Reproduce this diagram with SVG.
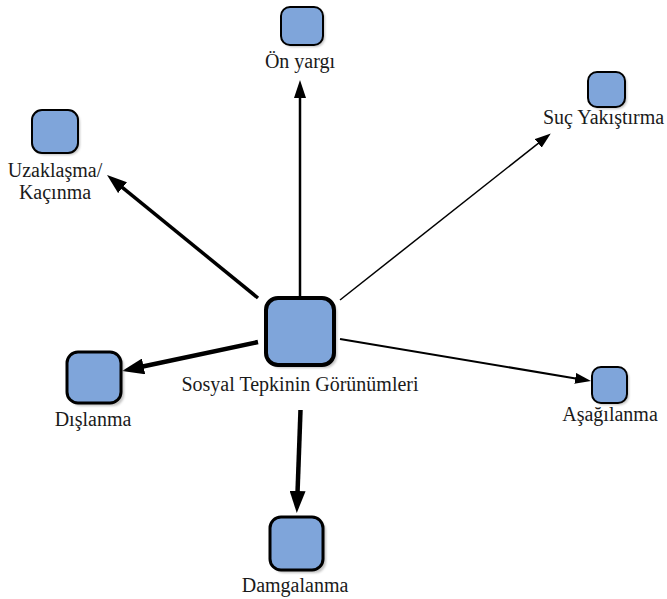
<svg xmlns="http://www.w3.org/2000/svg" width="667" height="599" viewBox="0 0 667 599">
<style>
.box{fill:#7FA5DA;stroke:#000;}
.sh{fill:#9a9a9a;opacity:0.6;}
.lbl{font-family:"Liberation Serif","Times New Roman",serif;font-size:20px;fill:#1a1a1a;}
.c{stroke:#000;fill:none;}
</style>
<defs>
<filter id="blur" x="-20%" y="-20%" width="140%" height="140%"><feGaussianBlur stdDeviation="1.2"/></filter>
<marker id="hL" markerUnits="userSpaceOnUse" markerWidth="22" markerHeight="16" refX="2" refY="8" orient="auto"><path d="M0,0 L22,8 L0,16 z" fill="#000"/></marker>
<marker id="hM" markerUnits="userSpaceOnUse" markerWidth="20" markerHeight="14" refX="2" refY="7" orient="auto"><path d="M0,0 L20,7 L0,14 z" fill="#000"/></marker>
<marker id="hN" markerUnits="userSpaceOnUse" markerWidth="18" markerHeight="12" refX="2" refY="6" orient="auto"><path d="M0,0 L18,6 L0,12 z" fill="#000"/></marker>
<marker id="hS" markerUnits="userSpaceOnUse" markerWidth="16" markerHeight="11" refX="2" refY="5.5" orient="auto"><path d="M0,0 L16,5.5 L0,11 z" fill="#000"/></marker>
</defs>
<g id="connectors">
<line class="c" x1="258" y1="298" x2="121" y2="186.4" stroke-width="3.5" marker-end="url(#hM)"/>
<line class="c" x1="300" y1="297" x2="300" y2="96" stroke-width="2.5" marker-end="url(#hN)"/>
<line class="c" x1="340" y1="300" x2="539.8" y2="142.1" stroke-width="1.5" marker-end="url(#hS)"/>
<line class="c" x1="258" y1="342" x2="141.6" y2="366.8" stroke-width="4.5" marker-end="url(#hL)"/>
<line class="c" x1="340" y1="339" x2="577.2" y2="378.7" stroke-width="2" marker-end="url(#hS)"/>
<line class="c" x1="300.5" y1="410" x2="297.5" y2="493" stroke-width="4.5" marker-end="url(#hL)"/>
</g>
<g id="center">
<rect class="sh" x="269" y="301" width="68" height="67" rx="12" filter="url(#blur)"/>
<rect class="box" x="266" y="298" width="68" height="67" rx="12" stroke-width="4"/>
<text class="lbl" x="300" y="391" text-anchor="middle">Sosyal Tepkinin Görünümleri</text>
</g>
<g id="onyargi">
<rect class="sh" x="283" y="9" width="42" height="38" rx="9" filter="url(#blur)"/>
<rect class="box" x="281" y="7" width="42" height="38" rx="9" stroke-width="2"/>
<text class="lbl" x="300" y="68" text-anchor="middle">Ön yargı</text>
</g>
<g id="uzaklasma">
<rect class="sh" x="34" y="112" width="46" height="43" rx="10" filter="url(#blur)"/>
<rect class="box" x="32" y="110" width="46" height="43" rx="10" stroke-width="2"/>
<text class="lbl" x="55" y="177" text-anchor="middle">Uzaklaşma/</text>
<text class="lbl" x="55" y="199" text-anchor="middle">Kaçınma</text>
</g>
<g id="suc">
<rect class="sh" x="590" y="74" width="37" height="35" rx="9" filter="url(#blur)"/>
<rect class="box" x="588" y="72" width="37" height="35" rx="9" stroke-width="2"/>
<text class="lbl" x="543" y="124">Suç Yakıştırma</text>
</g>
<g id="dislanma">
<rect class="sh" x="70" y="355" width="54" height="51" rx="11" filter="url(#blur)"/>
<rect class="box" x="67" y="352" width="54" height="51" rx="11" stroke-width="3"/>
<text class="lbl" x="93" y="426" text-anchor="middle">Dışlanma</text>
</g>
<g id="asagilanma">
<rect class="sh" x="594" y="369" width="35" height="36" rx="9" filter="url(#blur)"/>
<rect class="box" x="592" y="367" width="35" height="36" rx="9" stroke-width="2"/>
<text class="lbl" x="610" y="421" text-anchor="middle">Aşağılanma</text>
</g>
<g id="damgalanma">
<rect class="sh" x="273" y="520" width="53" height="53" rx="11" filter="url(#blur)"/>
<rect class="box" x="270" y="517" width="53" height="53" rx="11" stroke-width="3"/>
<text class="lbl" x="295" y="592" text-anchor="middle">Damgalanma</text>
</g>
</svg>
